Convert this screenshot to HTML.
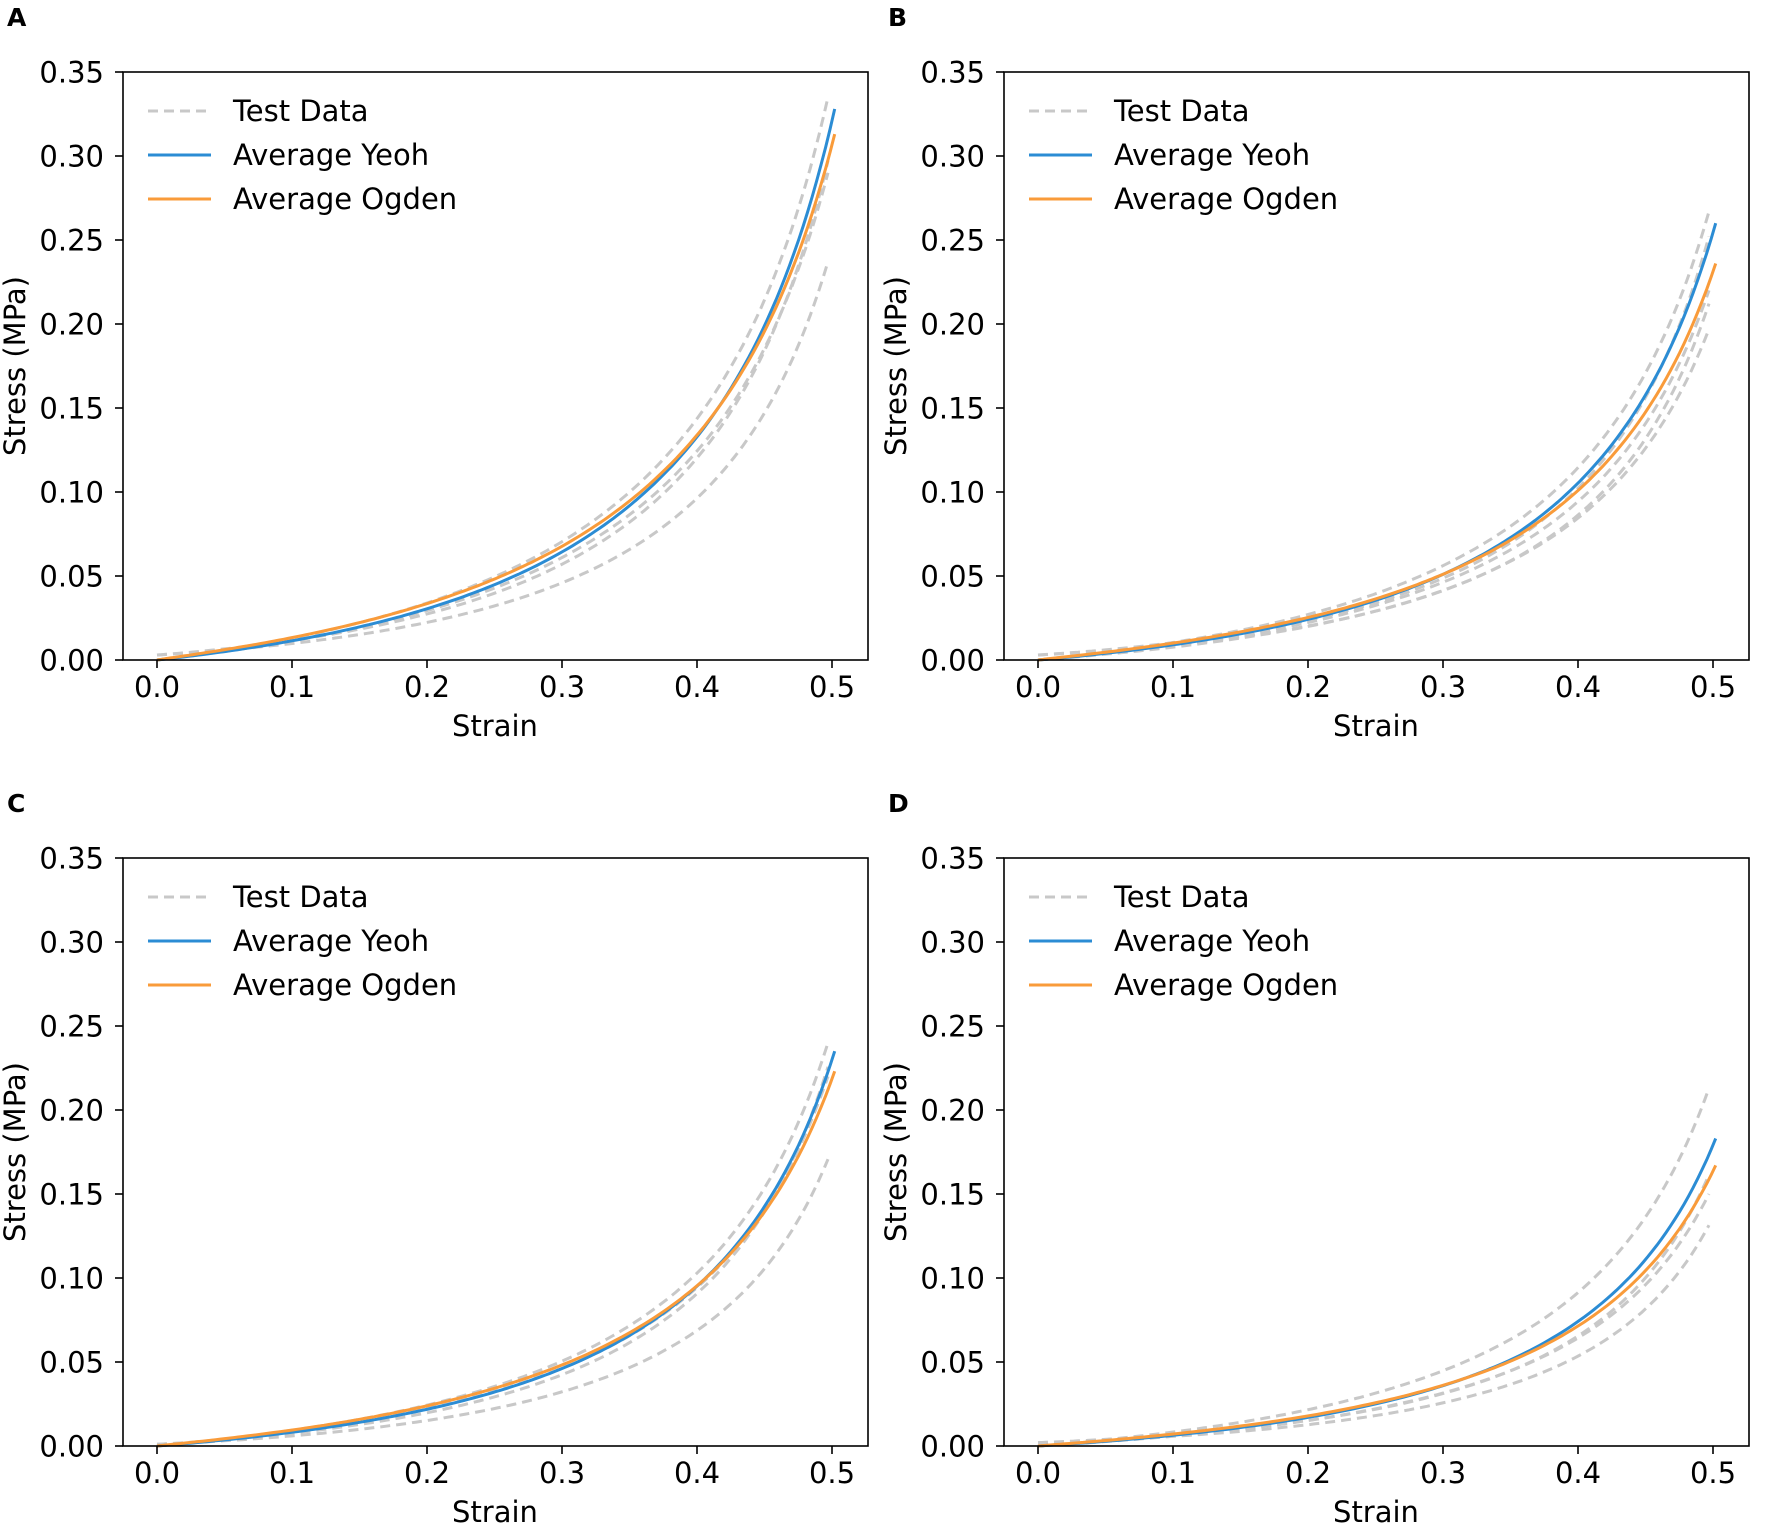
<!DOCTYPE html>
<html><head><meta charset="utf-8"><style>
html,body{margin:0;padding:0;background:#fff;}
svg{display:block;font-family:"DejaVu Sans","Liberation Sans",sans-serif;}
</style></head><body>
<svg id="s" width="1772" height="1524" viewBox="0 0 1772 1524" xmlns="http://www.w3.org/2000/svg"></svg>
<script>
const S=document.getElementById('s');let h='';
function base(x){return -0.145*x+0.1596*(1/(0.62-x)-1/0.62);}
const panels=[
{L:123,T:72,lab:'A',Y:.328,O:.313,tests:[.335,.295,.29,.235],off:.003},
{L:1004,T:72,lab:'B',Y:.26,O:.236,tests:[.267,.25,.22,.21,.197],off:.003},
{L:123,T:858,lab:'C',Y:.235,O:.223,tests:[.24,.225,.22,.17],off:.001},
{L:1004,T:858,lab:'D',Y:.183,O:.167,tests:[.213,.16,.15,.13],off:.002}];
panels.forEach(p=>{
const W=745,H=588,L=p.L,T=p.T,R=L+W,B=T+H;
const x0=L+34,xs=1350;
const X=x=>x0+x*xs,Yv=y=>B-y/0.35*H;
function curve(end,q,xe,off,col,dash){let d='';for(let i=0;i<=150;i++){const x=xe*i/150;let y=end*Math.pow(Math.max(base(x/xe*0.5),0),q)+off*(1-x/xe*0.3);d+=(i?'L':'M')+X(x).toFixed(1)+','+Yv(y).toFixed(1);}
h+=`<path d="${d}" fill="none" stroke="${col}" stroke-width="3" ${dash?'stroke-dasharray="10,6"':''}/>`;}
p.tests.forEach((e,i)=>curve(e,1+(i%2?0.05:-0.03),0.497,p.off*(i%2),'#c8c8c8',1));
curve(p.Y,1,0.502,0,'#2b8cd4',0);
curve(p.O,0.94,0.502,0,'#f99b3a',0);
h+=`<rect x="${L}" y="${T}" width="${W}" height="${H}" fill="none" stroke="#000" stroke-width="1.6"/>`;
for(let i=0;i<=5;i++){const x=X(i*0.1);h+=`<line x1="${x}" y1="${B}" x2="${x}" y2="${B+8}" stroke="#000" stroke-width="1.6"/><text x="${x}" y="${B+37}" font-size="29" text-anchor="middle">${(i*0.1).toFixed(1)}</text>`;}
for(let i=0;i<=7;i++){const y=Yv(i*0.05);h+=`<line x1="${L-8}" y1="${y}" x2="${L}" y2="${y}" stroke="#000" stroke-width="1.6"/><text x="${L-19}" y="${y+10.5}" font-size="29" text-anchor="end">${(i*0.05).toFixed(2)}</text>`;}
h+=`<text x="${L+372}" y="${B+76}" font-size="29" text-anchor="middle">Strain</text>`;
h+=`<text transform="translate(${L-98},${T+H/2}) rotate(-90)" font-size="29" text-anchor="middle">Stress (MPa)</text>`;
h+=`<text x="${L-116}" y="${T-46}" font-size="25" font-weight="bold">${p.lab}</text>`;
const lg=[['Test Data','#c8c8c8',1],['Average Yeoh','#2b8cd4',0],['Average Ogden','#f99b3a',0]];
lg.forEach((g,i)=>{const y=T+39+i*44;h+=`<line x1="${L+25}" y1="${y}" x2="${L+88}" y2="${y}" stroke="${g[1]}" stroke-width="3" ${g[2]?'stroke-dasharray="10,6"':''}/><text x="${L+110}" y="${y+10}" font-size="29">${g[0]}</text>`;});
});
S.innerHTML=h;
</script>
</body></html>
